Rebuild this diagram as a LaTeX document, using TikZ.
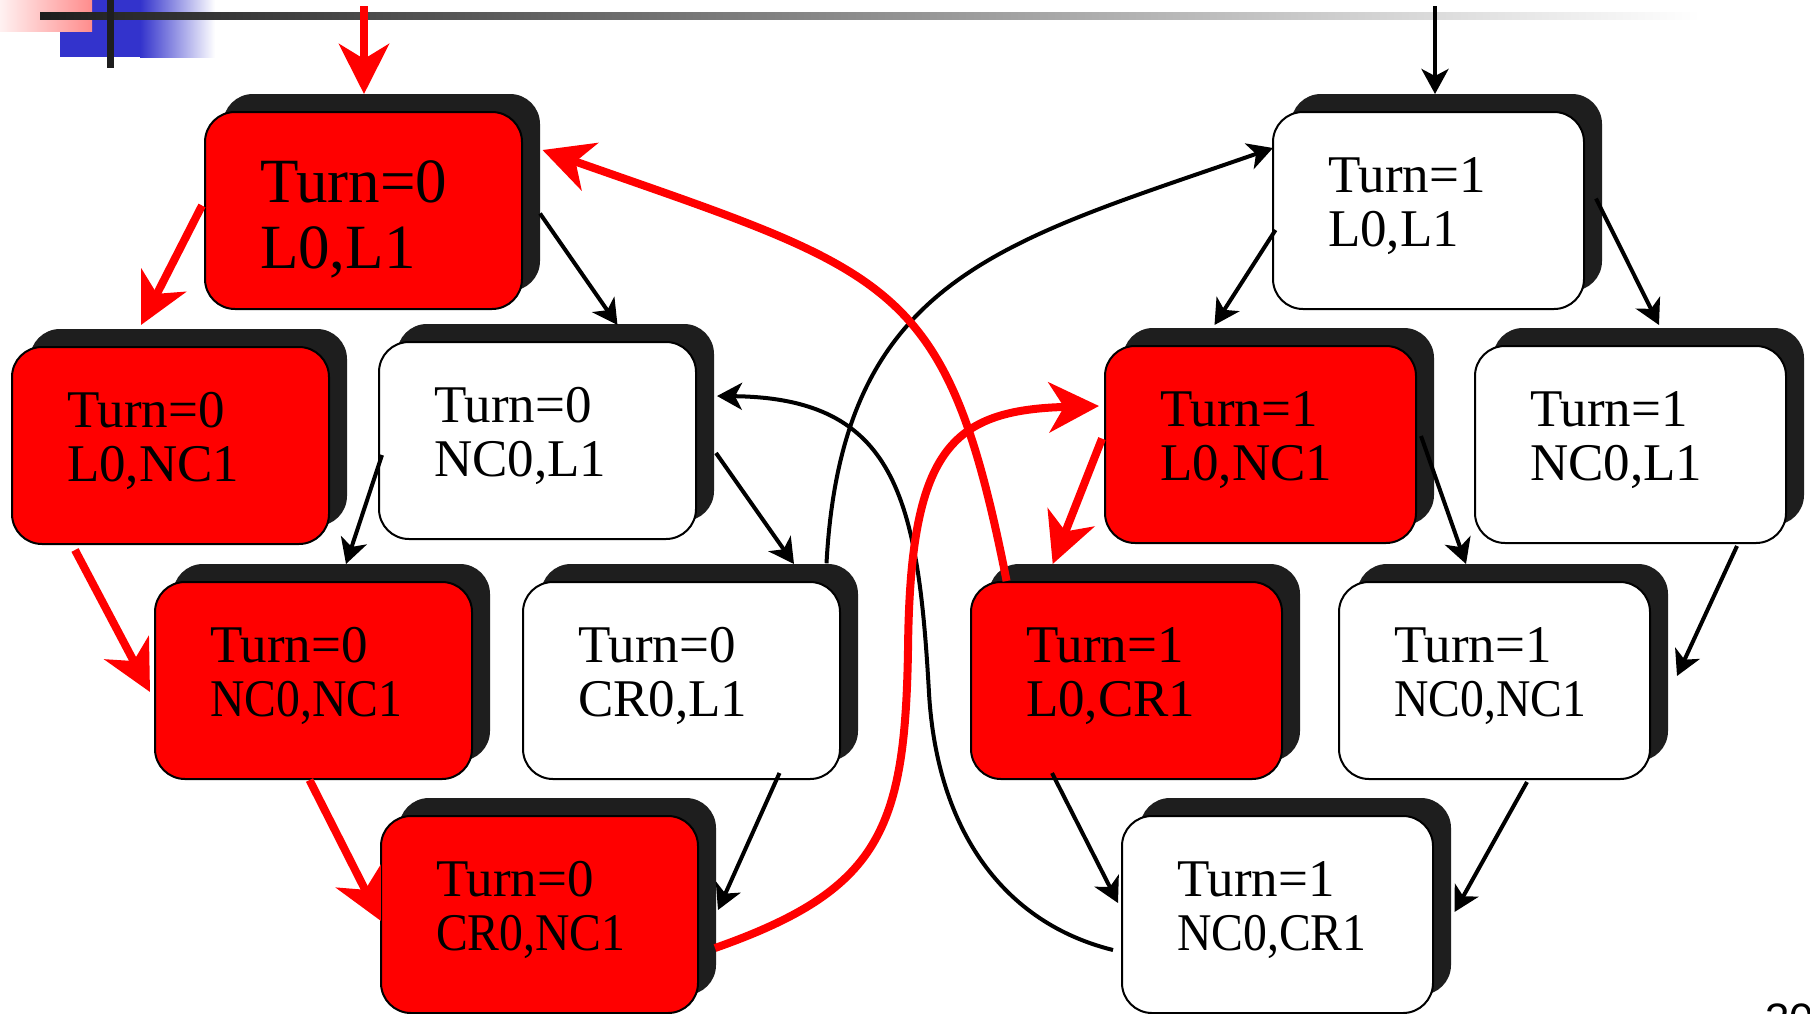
\documentclass[tikz,border=0pt]{standalone}
\usepackage{fontspec}
\setmainfont{Liberation Serif}
\newfontfamily\numfont{Liberation Sans}
\usetikzlibrary{arrows.meta,shadows}

\definecolor{shadegray}{HTML}{1E1E1E}
\definecolor{stred}{HTML}{FF0000}
\definecolor{hdrblue}{HTML}{3333CC}
\definecolor{hdrpink}{HTML}{FF8C8C}

\tikzset{
  statebox/.style={draw=black, line width=1pt, rounded corners=15pt,
    minimum height=98.5pt, inner sep=0pt, outer sep=0pt, anchor=north west,
    drop shadow={shadow xshift=9pt, shadow yshift=9pt, opacity=1,
      fill=shadegray, draw=none}},
  stline/.style={inner sep=0pt, outer sep=0pt, anchor=base west,
    font=\fontsize{26.5pt}{27pt}\selectfont},
  bigline/.style={stline, font=\fontsize{31.5pt}{33pt}\selectfont},
  blk/.style={draw=black, line width=2pt,
    -{Stealth[length=12.5pt, width=13.5pt, inset=3.5pt]}},
  redarr/.style={draw=stred, line width=4pt,
    -{Stealth[length=25pt, width=25pt, inset=7.5pt]}},
}

% long labels are set a little narrower so they fit the box
\newcommand\narrow[1]{\scalebox{0.9}[1]{#1}}

% state box: name, x, y (top-left corner), width, fill, first line, second line
\newcommand\mkstate[7]{%
  \node[statebox, fill=#5, minimum width=#4] (#1) at (#2,#3) {};
  \node[stline] (#1-top) at ([shift={(55,80)}]#1.north west) {#6};
  \node[stline] (#1-bot) at ([shift={(55,134)}]#1.north west) {#7};
}

\begin{document}
\begin{tikzpicture}[x=0.5pt, y=-0.5pt]
  \path[use as bounding box] (0,0) rectangle (1810,1013);
  \clip (0,0) rectangle (1810,1013);
  \fill[white] (0,0) rectangle (1810,1013);

  % slide header ornament
  \fill[hdrblue] (60,0) rectangle (140,57);
  \shade[left color=hdrblue, right color=white] (140,0) rectangle (215,57);
  \shade[left color=hdrpink!12, right color=hdrpink] (0,0) rectangle (92,31);
  \shade[left color=shadegray, middle color=black!30, right color=white]
    (40,12) rectangle (1700,19);
  \fill[shadegray] (107,0) rectangle (114,68);

  % Turn = 0 states
  \node[statebox, fill=stred, minimum width=158.5pt] (s0a) at (205,112) {};
  \node[bigline] (s0a-top) at ([shift={(55,90)}]s0a.north west) {Turn=0};
  \node[bigline] (s0a-bot) at ([shift={(55,156)}]s0a.north west) {L0,L1};
  \mkstate{s0b}{12}{347}{158.5pt}{stred}{Turn=0}{L0,NC1}
  \mkstate{s0c}{379}{342}{158.5pt}{white}{Turn=0}{NC0,L1}
  \mkstate{s0d}{155}{582}{158.5pt}{stred}{Turn=0}{\narrow{NC0,NC1}}
  \mkstate{s0e}{523}{582}{158.5pt}{white}{Turn=0}{CR0,L1}
  \mkstate{s0f}{381}{816}{158.5pt}{stred}{Turn=0}{\narrow{CR0,NC1}}

  % Turn = 1 states
  \mkstate{s1a}{1273}{112}{155.5pt}{white}{Turn=1}{L0,L1}
  \mkstate{s1b}{1105}{346}{155.5pt}{stred}{Turn=1}{L0,NC1}
  \mkstate{s1c}{1475}{346}{155.5pt}{white}{Turn=1}{NC0,L1}
  \mkstate{s1d}{971}{582}{155.5pt}{stred}{Turn=1}{L0,CR1}
  \mkstate{s1e}{1339}{582}{155.5pt}{white}{Turn=1}{\narrow{NC0,NC1}}
  \mkstate{s1f}{1122}{816}{155.5pt}{white}{Turn=1}{\narrow{NC0,CR1}}

  \coordinate (init0) at (364,6);
  \coordinate (init1) at (1435,6);

  % transitions
  \draw[blk] (init1) -- ([shift={(162,-18)}]s1a.north west);
  \draw[blk] ([shift={(335,101.5)}]s0a.north west) -- ([shift={(238.5,-17)}]s0c.north west);
  \draw[blk] ([shift={(3,113)}]s0c.north west) -- ([shift={(191,-18)}]s0d.north west);
  \draw[blk] ([shift={(337,111)}]s0c.north west) -- ([shift={(271,-18)}]s0e.north west);
  \draw[blk] ([shift={(256.5,191)}]s0e.north west) -- ([shift={(337,94)}]s0f.north west);
  \draw[blk] ([shift={(2.5,118)}]s1a.north west) -- ([shift={(109.5,-21)}]s1b.north west);
  \draw[blk] ([shift={(323,86.5)}]s1a.north west) -- ([shift={(184,-21)}]s1c.north west);
  \draw[blk] ([shift={(316,90)}]s1b.north west) -- ([shift={(127,-18)}]s1e.north west);
  \draw[blk] ([shift={(262,200)}]s1c.north west) -- ([shift={(338,94)}]s1e.north west);
  \draw[blk] ([shift={(81,191)}]s1d.north west) -- ([shift={(-4,87)}]s1f.north west);
  \draw[blk] ([shift={(188,200)}]s1e.north west) -- ([shift={(332.5,96)}]s1f.north west);
  \draw[blk] ([shift={(303.5,-18.7)}]s0e.north west)
    .. controls (842,277) and (1002,242.4) .. ([shift={(0,36)}]s1a.north west);
  \draw[blk] ([shift={(-9,134)}]s1f.north west)
    .. controls (1004,923) and (937,831) .. (929,693)
    .. controls (918,496) and (895,398) .. ([shift={(338,54)}]s0c.north west);

  % highlighted path
  \draw[redarr] (init0) -- ([shift={(159,-18)}]s0a.north west);
  \draw[redarr] ([shift={(-3,93.5)}]s0a.north west) -- ([shift={(129,-22)}]s0b.north west);
  \draw[redarr] ([shift={(63,203)}]s0b.north west) -- ([shift={(-5,110)}]s0d.north west);
  \draw[redarr] ([shift={(154.5,198)}]s0d.north west) -- ([shift={(0,105)}]s0f.north west);
  \draw[redarr] ([shift={(334,132)}]s0f.north west)
    .. controls (880,890) and (905,830) .. (908,650)
    .. controls (910,450) and (950,410) .. ([shift={(-6,60)}]s1b.north west);
  \draw[redarr] ([shift={(35.6,-1)}]s1d.north west)
    .. controls (946.5,278.2) and (894.6,273.6) .. ([shift={(337.5,38)}]s0a.north west);
  \draw[redarr] ([shift={(-3,92.6)}]s1b.north west) -- ([shift={(81.7,-18)}]s1d.north west);

  % slide number
  \node[inner sep=0pt, anchor=base west, font=\numfont\fontsize{22pt}{22pt}\selectfont]
    (pageno) at (1765,1034) {30};
\end{tikzpicture}
\end{document}
